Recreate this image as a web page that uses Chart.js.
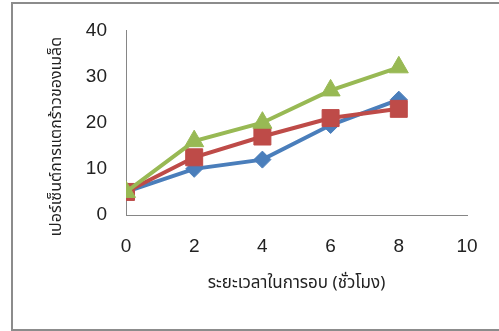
<!DOCTYPE html>
<html>
<head>
<meta charset="utf-8">
<script src="https://cdn.jsdelivr.net/npm/chart.js@4/dist/chart.umd.min.js"></script>
<style>
  html, body { margin: 0; padding: 0; background: #fff; }
  #wrap { position: relative; width: 499px; height: 331px; overflow: hidden; }
  #frame { position: absolute; left: 11px; top: 2px; width: 520px; height: 325px; border: 2px solid #8c8c8c; box-sizing: content-box; }
  canvas { position: absolute; left: 0; top: 0; }
</style>
</head>
<body>
<div id="wrap">
  <div id="frame"></div>
  <canvas id="c" width="499" height="331"></canvas>
</div>
<script>
// Drying time (hours) against percentage of cracked kernels
const hours = [0, 2, 4, 6, 8];
const seriesBlue = [5, 10, 12, 19.5, 25];
const seriesRed = [5, 12.5, 17, 21, 23];
const seriesGreen = [5, 16, 20, 27, 32];
const yTicks = [0, 10, 20, 30, 40];
const xTicks = [0, 2, 4, 6, 8, 10];
const xTitle = 'ระยะเวลาในการอบ (ชั่วโมง)';
const yTitle = 'เปอร์เซ็นต์การแตกร้าวของเมล็ด';

const toPoints = vals => hours.map((h, i) => ({ x: h, y: vals[i] }));
const thaiFont = "Tahoma, 'Noto Sans Thai', 'Noto Sans', 'DejaVu Sans', sans-serif";
const tickFont = "'Liberation Sans', Arial, sans-serif";

// Vertical axis title, sitting a little below the middle of the plot area
const yTitlePlugin = {
  id: 'yTitle',
  afterDraw(chart) {
    const { ctx, chartArea } = chart;
    ctx.save();
    ctx.translate(58, (chartArea.top + chartArea.bottom) / 2 + 14);
    ctx.rotate(-Math.PI / 2);
    ctx.font = '16px ' + thaiFont;
    ctx.fillStyle = '#222';
    ctx.textAlign = 'center';
    ctx.textBaseline = 'middle';
    ctx.fillText(yTitle, 0, 0);
    ctx.restore();
  }
};

new Chart(document.getElementById('c'), {
  type: 'line',
  data: {
    datasets: [
      { data: toPoints(seriesBlue), borderColor: '#4a7ebb', backgroundColor: '#4a7ebb',
        borderWidth: 4, pointStyle: 'rectRot', pointRadius: 8.5, pointBorderWidth: 1, order: 2 },
      { data: toPoints(seriesRed), borderColor: '#be4b48', backgroundColor: '#be4b48',
        borderWidth: 4, pointStyle: 'rect', pointRadius: 12, pointBorderWidth: 1, order: 1 },
      { data: toPoints(seriesGreen), borderColor: '#98b954', backgroundColor: '#98b954',
        borderWidth: 4, pointStyle: 'triangle', pointRadius: 11, pointBorderWidth: 1, order: 0 }
    ]
  },
  plugins: [yTitlePlugin],
  options: {
    responsive: false,
    animation: false,
    layout: { padding: { left: 20, right: 32, top: 29, bottom: 20 } },
    plugins: { legend: { display: false }, tooltip: { enabled: false } },
    elements: { line: { tension: 0 } },
    scales: {
      x: {
        type: 'linear', min: 0, max: 10,
        afterBuildTicks: s => { s.ticks = xTicks.map(v => ({ value: v })); },
        afterFit: s => { s.height = 331 - 20 - 215; },
        grid: { display: false, drawTicks: false },
        border: { display: true, color: '#868686', width: 1 },
        ticks: { color: '#222', padding: 20, font: { family: tickFont, size: 19 } },
        title: { display: true, text: xTitle, color: '#222', padding: { top: 0, bottom: 16 },
                 font: { family: thaiFont, size: 17 } }
      },
      y: {
        min: 0, max: 40,
        afterBuildTicks: s => { s.ticks = yTicks.map(v => ({ value: v })); },
        afterFit: s => { s.width = 126 - 20; },
        grid: { display: false, drawTicks: false },
        border: { display: true, color: '#868686', width: 1 },
        ticks: { color: '#222', padding: 19, font: { family: tickFont, size: 19 } },
        title: { display: false }
      }
    }
  }
});
</script>
</body>
</html>
